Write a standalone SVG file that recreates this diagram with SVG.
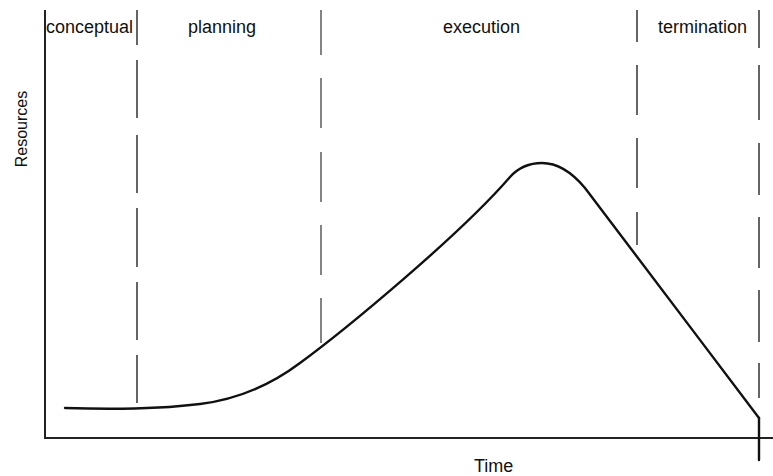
<svg xmlns="http://www.w3.org/2000/svg" width="773" height="476" viewBox="0 0 773 476">
  <style>
    .label { font-family: "Liberation Sans", Arial, sans-serif; font-size: 18px; fill: #111; }
    .axis { stroke: #222; stroke-width: 2; fill: none; }
    .phase { stroke: #333; stroke-width: 1.5; fill: none; }
    .phase-light { stroke: #777; stroke-width: 1.8; fill: none; }
    .curve { stroke: #111; stroke-width: 2.4; fill: none; stroke-linejoin: round; stroke-linecap: round; }
  </style>
  <rect width="773" height="476" fill="#fff"/>

  <!-- axes -->
  <g id="axes">
    <path class="axis" d="M45 10 V438 H773"/>
    <text class="label" x="474" y="472">Time</text>
    <text class="label" transform="translate(27 129) rotate(-90)" text-anchor="middle" style="font-size:16px">Resources</text>
  </g>

  <!-- phase boundaries -->
  <g id="boundaries">
    <path class="phase" d="M137 10 V45 M137 60 V118 M137 135 V193 M137 208 V267 M137 282 V340 M137 355 V403"/>
    <path class="phase-light" d="M321 10 V55 M321 78 V128 M321 152 V202 M321 225 V275 M321 298 V343"/>
    <path class="phase" d="M637 10 V42 M637 65 V115 M637 138 V188 M637 212 V245"/>
    <path class="phase" d="M759 10 V48 M759 65 V120 M759 143 V195 M759 217 V268 M759 290 V342 M759 363 V398"/>
  </g>

  <!-- phase names -->
  <g id="phase-conceptual"><text class="label" x="46" y="33">conceptual</text></g>
  <g id="phase-planning"><text class="label" x="188" y="33">planning</text></g>
  <g id="phase-execution"><text class="label" x="443" y="33">execution</text></g>
  <g id="phase-termination"><text class="label" x="658" y="33">termination</text></g>

  <!-- resource curve -->
  <g id="resource-curve">
    <path class="curve" d="M65 408 C110 409.5 160 409 200 404 C240 399 272 384 300 363 C345 330 460 235 510 177 C519 167 530 163 542 163 C556 163 570 170 585 188 C620 234 700 340 759 418"/>
    <path class="curve" d="M759 418 V460" stroke-linecap="butt"/>
  </g>
</svg>
